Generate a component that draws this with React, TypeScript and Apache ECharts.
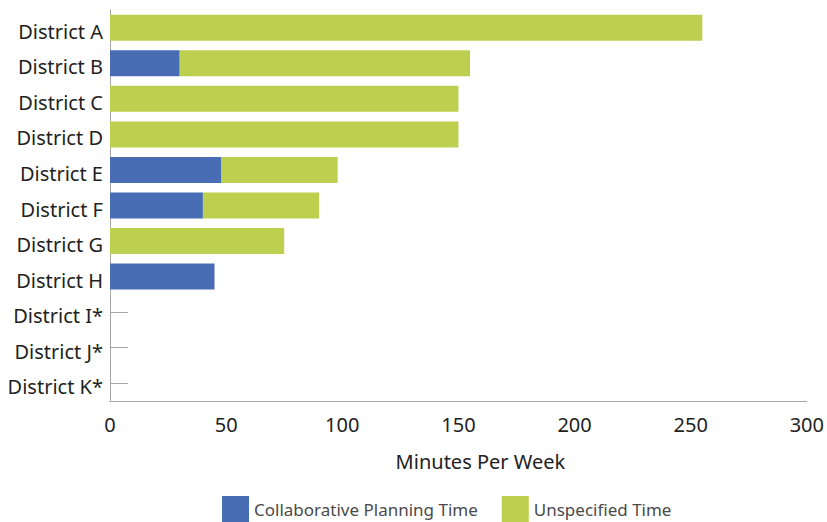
import React, { useEffect, useRef } from "react";
import * as echarts from "echarts";

const categories = [
  "District A", "District B", "District C", "District D", "District E", "District F",
  "District G", "District H", "District I*", "District J*", "District K*",
];
const collaborative = [0, 30, 0, 0, 48, 40, 0, 45, 0, 0, 0];
const unspecified = [255, 125, 150, 150, 50, 50, 75, 0, 0, 0, 0];
const xTicks = { min: 0, max: 300, interval: 50 };

const FONT = "'Noto Sans', 'Open Sans', sans-serif";

export default function App() {
  const ref = useRef<HTMLDivElement>(null);
  useEffect(() => {
    if (!ref.current) return;
    const chart = echarts.init(ref.current, undefined, { renderer: "svg" });
    chart.setOption({
      animation: false,
      backgroundColor: "#ffffff",
      textStyle: { fontFamily: FONT },
      grid: { left: 110, right: 15, top: 10, bottom: 121, containLabel: false },
      legend: {
        left: 217,
        top: 491,
        icon: "rect",
        itemWidth: 27,
        itemHeight: 26,
        itemGap: 24,
        textStyle: { fontSize: 17, color: "#4a4a4a", fontFamily: FONT },
        data: ["Collaborative Planning Time", "Unspecified Time"],
      },
      xAxis: {
        type: "value",
        min: xTicks.min,
        max: xTicks.max,
        interval: xTicks.interval,
        name: "Minutes Per Week",
        nameLocation: "middle",
        nameGap: 50,
        nameTextStyle: { fontSize: 20, color: "#222", fontFamily: FONT, padding: [0, 0, 0, 44] },
        axisLine: { show: true, lineStyle: { color: "#a6a6a6", width: 1 } },
        axisTick: { show: false },
        splitLine: { show: false },
        axisLabel: { fontSize: 20, color: "#222", margin: 13, fontFamily: FONT },
      },
      yAxis: {
        type: "category",
        inverse: true,
        data: categories,
        axisLine: { show: true, lineStyle: { color: "#a6a6a6", width: 1 } },
        axisTick: { show: true, inside: true, length: 18, alignWithLabel: true, lineStyle: { color: "#a6a6a6" } },
        axisLabel: {
          margin: 7,
          interval: 0,
          formatter: "{a|{value}}",
          rich: {
            a: { fontSize: 20, color: "#231f20", fontFamily: FONT, padding: [7, 0, 0, 0] },
          },
        },
      },
      series: [
        {
          name: "Collaborative Planning Time",
          type: "bar",
          stack: "total",
          barWidth: 26,
          itemStyle: { color: "#486db4" },
          data: collaborative,
          z: 3,
        },
        {
          name: "Unspecified Time",
          type: "bar",
          stack: "total",
          barWidth: 26,
          itemStyle: { color: "#bccf4f" },
          data: unspecified,
          z: 3,
        },
      ],
    });
    return () => chart.dispose();
  }, []);
  return (
    <div
      ref={ref}
      style={{ position: "fixed", left: 0, top: 0, width: 827, height: 522, background: "#fff" }}
    />
  );
}
